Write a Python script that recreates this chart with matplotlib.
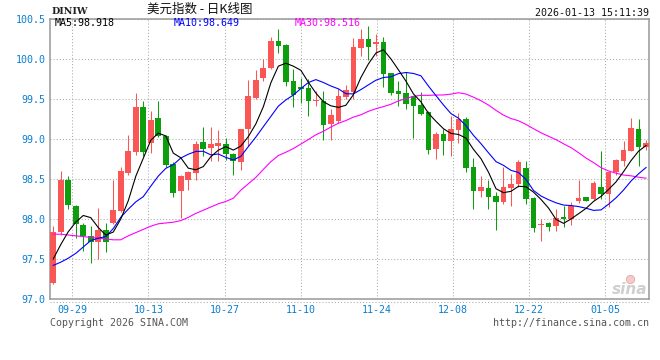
import numpy as np
import matplotlib
matplotlib.use("Agg")
import matplotlib.pyplot as plt
from matplotlib.lines import Line2D

# ---------------- data ----------------
opens = [97.196, 97.833, 98.483, 98.167, 97.929, 97.792, 97.708, 97.867, 97.946, 98.096,
         98.571, 98.833, 99.396, 98.946, 99.258, 99.042, 98.688, 98.346, 98.488, 98.571,
         98.9625, 98.888, 98.913, 98.938, 98.8125, 98.717, 99.125, 99.5125, 99.7625, 99.8875,
         100.225, 100.175, 99.725, 99.65, 99.6375, 99.48, 99.475, 99.1875, 99.229, 99.529,
         99.583, 100.142, 100.25, 100.19, 100.2125, 99.825, 99.60, 99.575, 99.533, 99.425,
         99.3375, 98.879, 99.0625, 98.979, 99.117, 99.25, 98.646, 98.354, 98.3875, 98.2875,
         98.217, 98.3875, 98.433, 98.642, 98.2625, 97.93, 97.954, 97.908, 98.029, 98.0,
         98.221, 98.27, 98.246, 98.404, 98.3125, 98.583, 98.729, 98.854, 99.129, 98.896]
highs = [97.917, 98.596, 98.533, 98.179, 97.95, 97.917, 98.133, 97.946, 98.492, 98.654,
         99.054, 99.571, 99.479, 99.354, 99.479, 99.05, 98.71, 98.55, 98.60, 98.979,
         99.15, 99.15, 99.11, 99.0125, 98.82, 99.125, 99.7375, 99.867, 100.0, 100.28,
         100.375, 100.19, 99.875, 99.76, 99.75, 99.60, 99.60, 99.375, 99.62, 99.67,
         100.2625, 100.375, 100.408, 100.31, 100.27, 99.83, 99.725, 99.833, 99.54, 99.59,
         99.354, 99.092, 99.125, 99.29, 99.325, 99.275, 98.7625, 98.5375, 98.4875, 98.333,
         98.646, 98.5625, 98.742, 98.729, 98.279, 98.0, 97.96, 98.125, 98.167, 98.217,
         98.4875, 98.279, 98.479, 98.854, 98.60, 98.75, 98.979, 99.267, 99.25, 98.992]
lows = [97.19, 97.80, 98.121, 97.763, 97.604, 97.446, 97.496, 97.583, 97.94, 98.09,
        98.55, 98.80, 98.792, 98.825, 99.029, 98.646, 98.279, 98.013, 98.367, 98.492,
        98.79, 98.729, 98.73, 98.7375, 98.554, 98.617, 98.917, 99.50, 99.72, 99.87,
        100.071, 99.667, 99.40, 99.45, 99.292, 99.41, 98.99, 98.99, 99.20, 99.50,
        99.50, 100.042, 99.99, 100.04, 99.654, 99.55, 99.417, 99.375, 99.008, 99.30,
        98.8125, 98.75, 98.80, 98.79, 98.95, 98.592, 98.125, 98.279, 98.125, 97.867,
        98.19, 98.167, 98.396, 98.1875, 97.833, 97.729, 97.854, 97.846, 97.896, 97.925,
        98.20, 98.22, 98.2375, 98.246, 98.146, 98.55, 98.667, 98.85, 98.658, 98.8625]
closes = [97.842, 98.483, 98.179, 97.933, 97.783, 97.708, 97.867, 97.708, 98.117, 98.596,
          98.854, 99.396, 98.833, 99.242, 99.042, 98.679, 98.321, 98.542, 98.592, 98.942,
          98.879, 98.938, 98.95, 98.8125, 98.729, 99.125, 99.5375, 99.7375, 99.8875, 100.225,
          100.167, 99.717, 99.554, 99.63, 99.479, 99.49, 99.175, 99.30, 99.533, 99.6125,
          100.15, 100.25, 100.15, 100.21, 99.817, 99.579, 99.567, 99.442, 99.417, 99.317,
          98.867, 99.0625, 98.979, 99.125, 99.25, 98.642, 98.354, 98.40, 98.279, 98.217,
          98.396, 98.4375, 98.717, 98.246, 97.883, 97.94, 97.896, 98.0125, 97.996, 98.158,
          98.267, 98.229, 98.45, 98.308, 98.592, 98.742, 98.867, 99.142, 98.896, 98.946]

# moving-average values at the left edge (they depend on days before the chart)
ma5_head = [97.50, 97.68, 97.84, 97.96]
ma10_head = [97.42, 97.46, 97.51, 97.57, 97.65, 97.73, 97.76, 97.78, 97.88]
ma30_head = [97.81, 97.81, 97.80, 97.79, 97.78, 97.77, 97.76, 97.75, 97.74, 97.74,
             97.79, 97.83, 97.87, 97.91, 97.94, 97.95, 97.96, 97.98, 98.02, 98.07,
             98.11, 98.15, 98.19, 98.22, 98.26, 98.36, 98.44, 98.52, 98.62]

date_labels = ["09-29", "10-13", "10-27", "11-10", "11-24", "12-08", "12-22", "01-05"]
y_ticks = [97.0, 97.5, 98.0, 98.5, 99.0, 99.5, 100.0, 100.5]
title_code = "DINIW"
title_cn = "美元指数 - 日K线图"
timestamp = "2026-01-13 15:11:39"
ma_label_values = ["98.918", "98.649", "98.516"]


def moving_average(vals, n, head):
    v = np.asarray(vals, dtype=float)
    out = np.empty_like(v)
    out[:n - 1] = head
    out[n - 1:] = np.convolve(v, np.ones(n) / n, mode="valid")
    return out


o = np.array(opens); h = np.array(highs); l = np.array(lows); c = np.array(closes)
x = np.arange(len(c))
ma5 = moving_average(c, 5, ma5_head)
ma10 = moving_average(c, 10, ma10_head)
ma30 = moving_average(c, 30, ma30_head)

# ---------------- figure ----------------
W, H = 660, 360
fig = plt.figure(figsize=(W / 100, H / 100), dpi=100)
fig.patch.set_facecolor("white")

L, R, T, B = 50, 649, 19, 299
ax = fig.add_axes([L / W, (H - B) / H, (R - L) / W, (B - T) / H])
ax.set_xlim(-0.43, 79.39)
ax.set_ylim(97.0, 100.5)

RED = "#fa5656"
GREEN = "#0c9e0c"
MONO = "DejaVu Sans Mono"
BLUE_TXT = "#0a7fcf"

# grid
ax.set_yticks(y_ticks)
ax.set_yticklabels([f"{v:.1f}" for v in y_ticks])
xt = np.linspace(2.55, 73.55, len(date_labels))
ax.set_xticks(xt)
ax.set_xticklabels(date_labels)
ax.grid(True, color="#aaaaaa", linestyle=(0, (1, 2)), linewidth=0.75, zorder=0)
ax.set_axisbelow(True)
ax.tick_params(length=0, labelsize=7.2, colors=BLUE_TXT, pad=3)
for lab in ax.get_xticklabels() + ax.get_yticklabels():
    lab.set_fontfamily(MONO)
ax.tick_params(axis="x", pad=4)
for sp in ax.spines.values():
    sp.set_color("#999999")
    sp.set_linewidth(1.1)

# candles
up = c >= o
colors = np.where(up, RED, GREEN)
ax.vlines(x, l, h, colors=colors, linewidth=0.75, zorder=2)
body_bottom = np.minimum(o, c)
body_h = np.maximum(np.abs(c - o), 0.0125)
ax.bar(x, body_h, bottom=body_bottom, width=0.76, color=colors, linewidth=0, zorder=3)

# moving averages
ax.plot(x, ma30, color="#ff00ff", linewidth=0.8, zorder=4)
ax.plot(x, ma10, color="#0000ff", linewidth=0.8, zorder=4)
ax.plot(x, ma5, color="#000000", linewidth=0.8, zorder=5)


def fx(px):
    return px / W


def fy(py):
    return (H - py) / H


# MA labels inside the plot top
fig.text(fx(55), fy(23.5), f"MA5:{ma_label_values[0]}", color="black", fontsize=7.2,
         family=MONO, va="center", ha="left")
fig.text(fx(174), fy(23.5), f"MA10:{ma_label_values[1]}", color="#0000ff", fontsize=7.2,
         family=MONO, va="center", ha="left")
fig.text(fx(295), fy(23.5), f"MA30:{ma_label_values[2]}", color="#ff00ff", fontsize=7.2,
         family=MONO, va="center", ha="left")

# headers
fig.text(fx(51.5), fy(12), title_code, color="#222222", fontsize=6.8, family="DejaVu Serif",
         weight="bold", va="center", ha="left")
fig.text(fx(200), fy(9.5), title_cn, color="#111111", fontsize=9,
         family=["Noto Sans CJK SC", "DejaVu Sans"], va="center", ha="center")
fig.text(fx(649), fy(12.5), timestamp, color="#111111", fontsize=7.2, family=MONO,
         va="center", ha="right")

# dotted line under the axis
fig.add_artist(Line2D([fx(50), fx(650)], [fy(301.5), fy(301.5)], color="#aaaaaa",
                      linestyle=(0, (1, 2)), linewidth=0.75))

# footer
fig.text(fx(50), fy(323.5), "Copyright 2026 SINA.COM", color="#555555", fontsize=7.2,
         family=MONO, va="center", ha="left")
fig.text(fx(649), fy(323.5), "http://finance.sina.com.cn", color="#555555", fontsize=7.2,
         family=MONO, va="center", ha="right")

# sina watermark (eye drawn as a marker, word as text)
fig.add_artist(Line2D([fx(630)], [fy(279)], marker="o", markersize=6,
                      markerfacecolor="#f4caca", markeredgecolor="#e8a8a8",
                      markeredgewidth=0.6, linestyle="none"))
fig.text(fx(647), fy(290), "sina", color="#cfcfcf", fontsize=11, style="italic",
         weight="bold", family="DejaVu Sans", va="center", ha="right")

fig.savefig("out.png", dpi=100, facecolor="white")
